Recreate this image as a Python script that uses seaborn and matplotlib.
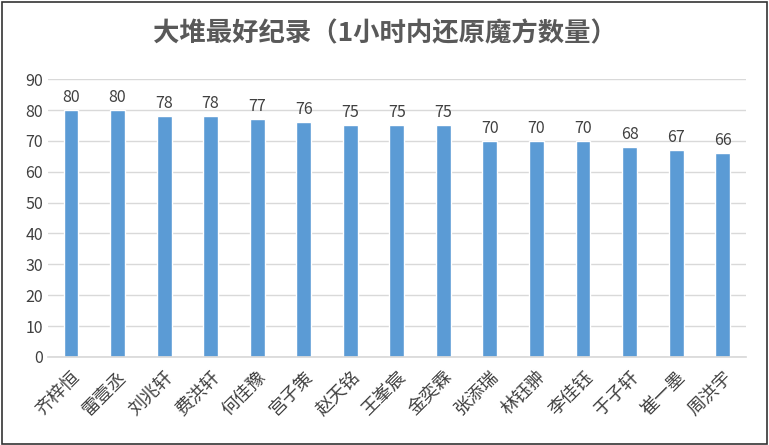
import matplotlib
matplotlib.use("Agg")
import matplotlib.pyplot as plt
import seaborn as sns
import pandas as pd

names = ["齐梓恒", "雷壹丞", "刘兆轩", "费洪轩", "何佳豫", "宫子策", "赵天铭", "王峯宸",
         "金奕霖", "张添瑞", "林钰翀", "李佳钰", "于子轩", "崔一墨", "周洪宇"]
counts = [80, 80, 78, 78, 77, 76, 75, 75, 75, 70, 70, 70, 68, 67, 66]
title = "大堆最好纪录（1小时内还原魔方数量）"

sns.set_theme(style="white")
plt.rcParams['font.family'] = ['Noto Sans CJK SC', 'DejaVu Sans']

df = pd.DataFrame({"name": names, "count": counts})
fig = plt.figure(figsize=(7.69, 4.45), dpi=100)
ax = fig.add_axes([0.062, 0.198, 0.908, 0.624])
sns.barplot(data=df, x="name", y="count", color="#5b9bd5", saturation=1,
            width=0.32, ax=ax)
ax.set_ylim(0, 90)
ax.set_yticks(range(0, 91, 10))
ax.set_xlim(-0.5, len(names) - 0.5)
ax.yaxis.grid(True, color="#d9d9d9", lw=1)
ax.set_axisbelow(True)
for s in ["top", "right", "left"]:
    ax.spines[s].set_visible(False)
ax.spines["bottom"].set_color("#d9d9d9")
ax.set_xlabel("")
ax.set_ylabel("")
ax.tick_params(axis="y", labelsize=11.5, colors="#404040", length=0)
ax.tick_params(axis="x", length=0, pad=8)
for lab in ax.get_xticklabels():
    lab.set_rotation(45)
    lab.set_ha("right")
    lab.set_rotation_mode("anchor")
    lab.set_fontsize(13)
    lab.set_color("#404040")
for c in ax.containers:
    ax.bar_label(c, fontsize=11.5, color="#404040", padding=3)

fig.text(0.5, 0.925, title, ha="center", va="center", fontsize=19,
         fontweight="bold", color="#595959")
fig.patches.append(plt.Rectangle((0.002, 0.003), 0.995, 0.993, transform=fig.transFigure,
                                 fill=False, edgecolor="#333333", lw=1.2))
fig.savefig("out.png", dpi=100)
